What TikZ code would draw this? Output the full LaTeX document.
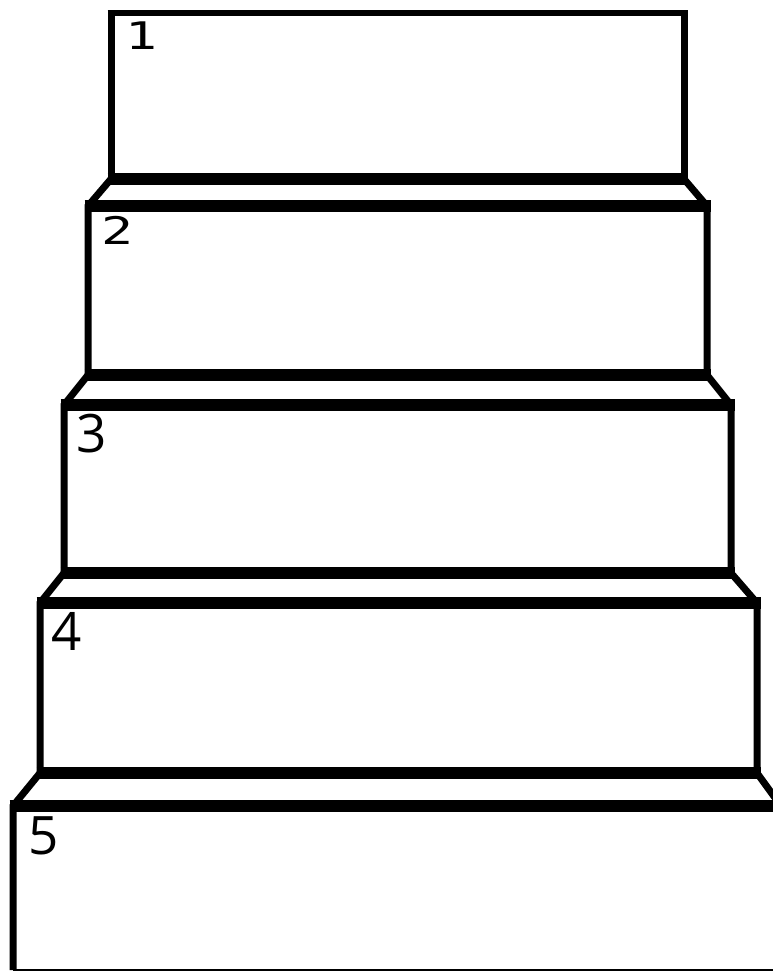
\documentclass[tikz,border=0pt]{standalone}
\usepackage{fontspec}
\newfontfamily\monodig{DejaVu Sans Mono}
\newfontfamily\sansdig{Open Sans}
\usetikzlibrary{positioning}

\begin{document}
\begin{tikzpicture}[x=1pt,y=-1pt,
    side/.style={line width=7pt,line join=miter},
    ledge/.style={line width=12pt,shorten <=-3.5pt,shorten >=-3.5pt},
    smalllab/.style={inner sep=0pt,font=\monodig\fontsize{38}{38}\selectfont,xscale=1.4},
    biglab/.style={inner sep=0pt,font=\sansdig\fontsize{53}{53}\selectfont}]
  \useasboundingbox (0,0) rectangle (773,971);
  \clip (0,0) rectangle (773,971);
  % corners of the five steps
  \foreach \i/\l/\r/\t/\b in {1/111/684/13/179,2/88/707/206/375,3/64/731/405/573,
                              4/40/757/603/773,5/13/781/806/970} {
    \coordinate (tl\i) at (\l,\t);
    \coordinate (tr\i) at (\r,\t);
    \coordinate (bl\i) at (\l,\b);
    \coordinate (br\i) at (\r,\b);
  }
  % top step
  \draw[line width=6pt,shorten <=-3.5pt,shorten >=-3.5pt] (tl1) -- (tr1);
  \draw[side] (tl1) -- (bl1) (tr1) -- (br1);
  % lower steps with slanted ledges
  \foreach \i [evaluate=\i as \j using int(\i-1)] in {2,...,5} {
    \draw[side] (bl\j) -- (tl\i) -- (bl\i);
    \draw[side] (br\j) -- (tr\i) -- (br\i);
    \draw[ledge] (bl\j) -- (br\j);
    \draw[ledge] (tl\i) -- (tr\i);
  }
  \draw[line width=1.5pt] (bl5) -- (br5);
  % step numbers
  \node[smalllab,below right=9pt and 14pt of tl1] (lab1) {1};
  \node[smalllab,below right=10pt and 13pt of tl2] (lab2) {2};
  \node[biglab,below right=9pt and 12pt of tl3] (lab3) {3};
  \node[biglab,below right=9pt and 11pt of tl4] (lab4) {4};
  \node[biglab,below right=10pt and 15pt of tl5] (lab5) {5};
\end{tikzpicture}
\end{document}
